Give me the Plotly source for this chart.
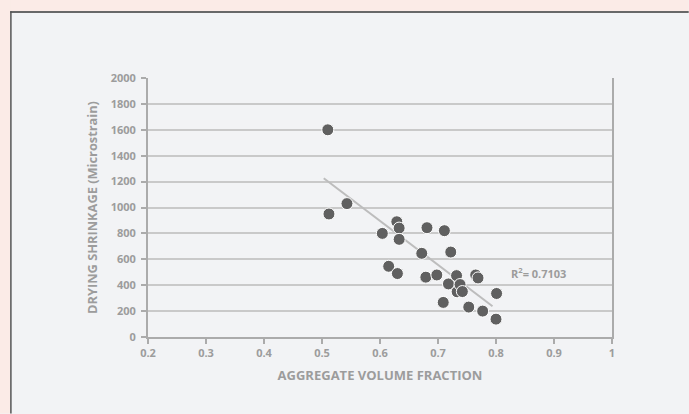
import plotly.graph_objects as go

# Data
agg_fraction = [0.510, 0.512, 0.543, 0.604, 0.615, 0.629, 0.630, 0.633, 0.633,
                0.672, 0.679, 0.681, 0.698, 0.709, 0.711, 0.718, 0.722, 0.732,
                0.733, 0.738, 0.742, 0.753, 0.765, 0.769, 0.777, 0.800, 0.801]
shrinkage = [1600, 950, 1030, 800, 546, 890, 490, 841, 754,
             646, 462, 844, 479, 267, 821, 410, 656, 474,
             349, 405, 351, 231, 479, 456, 200, 138, 336]
trend_x = [0.503, 0.794]
trend_y = [1226, 238]
r2_label = "R<sup>2</sup>= 0.7103"
x_ticks = [0.2, 0.3, 0.4, 0.5, 0.6, 0.7, 0.8, 0.9, 1]
x_tick_text = ["0.2", "0.3", "0.4", "0.5", "0.6", "0.7", "0.8", "0.9", "1"]
y_ticks = [0, 200, 400, 600, 800, 1000, 1200, 1400, 1600, 1800, 2000]

W, H = 689, 414
L, R, T, B = 148.3, 76.7, 78.3, 76.5
pw, ph = W - L - R, H - T - B

def px_x(p):
    return (p - L) / pw

def px_y(p):
    return (H - B - p) / ph

FONT = "Open Sans"
GRAY_TXT = "#9C9C9C"
AXIS = "#ABABAB"
PINK = "#FBEBE7"
PANEL = "#F2F3F5"

fig = go.Figure()
fig.add_trace(go.Scatter(x=trend_x, y=trend_y, mode="lines",
                         line=dict(color="#BDBDBD", width=2), hoverinfo="skip"))
fig.add_trace(go.Scatter(x=agg_fraction, y=shrinkage, mode="markers",
                         marker=dict(size=12, color="#606060",
                                     line=dict(color="#FFFFFF", width=1))))

fig.add_annotation(x=0.822, y=498, xref="x", yref="y", text=r2_label,
                   showarrow=False, xanchor="left", yanchor="middle",
                   font=dict(family=FONT, size=11, color=GRAY_TXT, weight="bold"))

shapes = [
    # panel fill (right/bottom edges included)
    dict(type="rect", xref="paper", yref="paper", layer="below",
         x0=px_x(11), x1=px_x(W), y0=px_y(H), y1=px_y(12),
         fillcolor=PANEL, line=dict(width=0)),
    # pink strips top and left
    dict(type="rect", xref="paper", yref="paper", layer="above",
         x0=px_x(0), x1=px_x(W), y0=px_y(11.5), y1=px_y(0),
         fillcolor=PINK, line=dict(width=0)),
    dict(type="rect", xref="paper", yref="paper", layer="above",
         x0=px_x(0), x1=px_x(10.5), y0=px_y(H), y1=px_y(0),
         fillcolor=PINK, line=dict(width=0)),
    # dark border top and left of panel
    dict(type="line", xref="paper", yref="paper", layer="above",
         x0=px_x(10.5), x1=px_x(W), y0=px_y(12.2), y1=px_y(12.2),
         line=dict(color="#3A3A3A", width=1.5)),
    dict(type="line", xref="paper", yref="paper", layer="above",
         x0=px_x(11.2), x1=px_x(11.2), y0=px_y(11.5), y1=px_y(H),
         line=dict(color="#555555", width=1.5)),
]

fig.update_layout(
    width=W, height=H,
    margin=dict(l=L, r=R, t=T, b=B, pad=0),
    paper_bgcolor=PANEL,
    plot_bgcolor=PANEL,
    showlegend=False,
    shapes=shapes,
    xaxis=dict(range=[0.2, 1], tickvals=x_ticks, ticktext=x_tick_text,
               showgrid=False, zeroline=False,
               showline=True, linecolor=AXIS, linewidth=2,
               ticks="outside", ticklen=5, tickwidth=2, tickcolor=AXIS,
               tickfont=dict(family=FONT, size=11, color=GRAY_TXT, weight="bold"),
               title=dict(text="AGGREGATE VOLUME FRACTION", standoff=12,
                          font=dict(family=FONT, size=13, color=GRAY_TXT, weight="bold"))),
    yaxis=dict(range=[0, 2000], tickvals=y_ticks,
               showgrid=True, gridcolor="#C9C9C9", gridwidth=1.5, zeroline=False,
               showline=True, linecolor=AXIS, linewidth=2, mirror=True,
               ticks="outside", ticklen=5, tickwidth=2, tickcolor=AXIS,
               ticklabelstandoff=3,
               tickfont=dict(family=FONT, size=11, color=GRAY_TXT, weight="bold"),
               title=dict(text="DRYING SHRINKAGE (Microstrain)", standoff=10,
                          font=dict(family=FONT, size=12.8, color=GRAY_TXT, weight="bold"))),
)

fig.write_html("out.html",
               config={"displayModeBar": False},
               post_script="document.body.style.margin='0';"
                           "document.body.style.background='#F2F3F5';"
                           "document.documentElement.style.background='#F2F3F5';"
                           "document.documentElement.style.overflow='hidden';")
